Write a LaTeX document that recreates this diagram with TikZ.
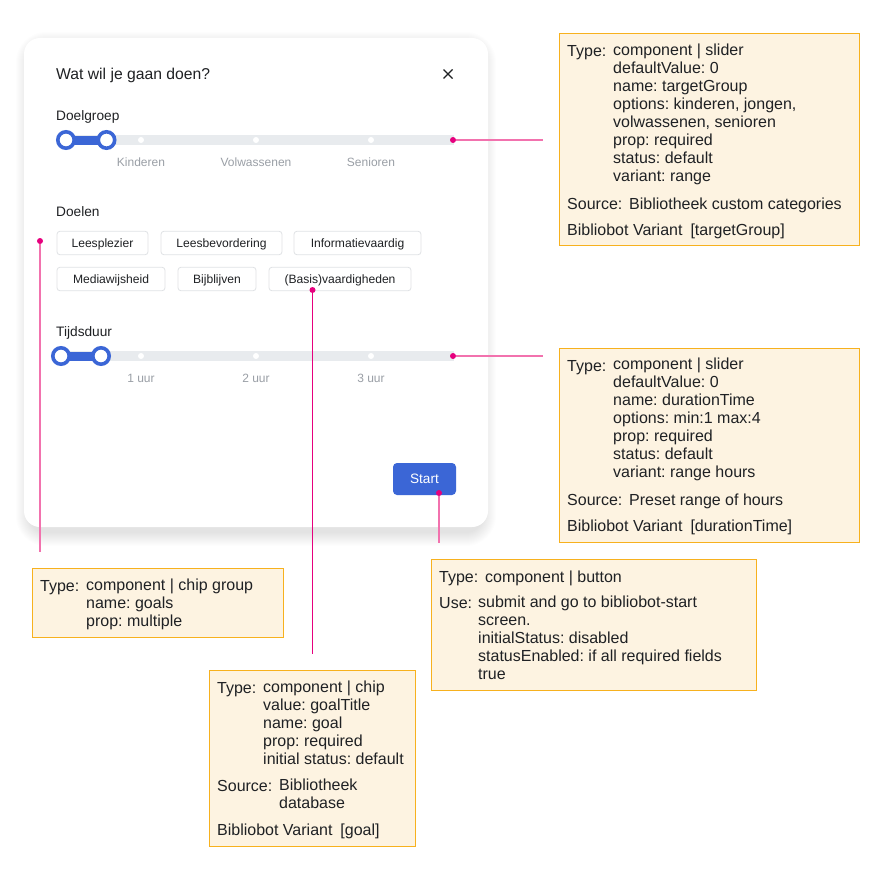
\documentclass[tikz,border=0pt]{standalone}
\usepackage{fontspec}
\setmainfont{Liberation Sans}
\frenchspacing
\usepackage{tikz}
\usetikzlibrary{positioning,calc}

\definecolor{inkblack}{HTML}{1F2124}
\definecolor{inkgrey}{HTML}{9A9FA6}
\definecolor{trackgrey}{HTML}{E8EBEE}
\definecolor{chipline}{HTML}{E0E2E5}
\definecolor{sliderblue}{HTML}{3B66D6}
\definecolor{pinkdot}{HTML}{E6007E}
\definecolor{pinkline}{HTML}{F272AE}
\definecolor{notefill}{HTML}{FDF3E1}
\definecolor{noteline}{HTML}{F7B11E}

\tikzset{
  note/.style={draw=noteline, fill=notefill, line width=1pt, rectangle, inner sep=0pt},
  notetext/.style={anchor=north west, align=left, inner sep=0pt, text=inkblack, yshift=-0.8pt,
    font=\fontsize{16}{18}\selectfont, execute at begin node=\strut},
  heading/.style={anchor=base west, inner sep=0pt, text=inkblack, font=\fontsize{13.7}{16}\selectfont},
  ticklabel/.style={anchor=base, inner sep=0pt, text=inkgrey, font=\fontsize{12}{14}\selectfont},
  chip/.style={draw=chipline, fill=white, line width=0.8pt, rounded corners=3pt, rectangle, inner sep=0pt,
    minimum height=23.5pt, text height=9.4pt, text depth=0.7pt, text=inkblack, font=\fontsize{12.1}{14}\selectfont},
  track/.style={fill=trackgrey, rectangle, inner sep=0pt, minimum height=10pt},
  thumb/.style={draw=sliderblue, fill=white, line width=3.6pt, circle, inner sep=0pt, minimum size=16.4pt},
  bar/.style={sliderblue, line width=9pt, shorten <=-2pt, shorten >=-2pt},
  tick/.style={fill=white, circle, inner sep=0pt, minimum size=6pt},
  pin/.style={fill=pinkdot, circle, inner sep=0pt, minimum size=6pt},
  leader/.style={pinkline, line width=2pt},
  leaderdark/.style={pinkdot, line width=1.2pt},
}

\begin{document}
\begin{tikzpicture}[x=1pt, y=-1pt]
  \useasboundingbox (0,0) rectangle (880,880);
  \fill[white] (0,0) rectangle (880,880);

  % card with soft shadow
  \foreach \g in {1,...,14} {
    \fill[black, opacity=0.008, rounded corners={16pt+\g pt}]
      ({30-\g},{46-\g}) rectangle ({482+\g},{532+\g});
  }
  \node[fill=white, rectangle, rounded corners=16pt, inner sep=0pt, minimum width=464pt, minimum height=489pt] at (256, 282.5) (card) {};

  \node[anchor=base west, inner sep=0pt, text=inkblack, font=\fontsize{15.7}{18}\selectfont] at (56, 79.5) (title) {Wat wil je gaan doen?};
  \coordinate (closea) at (443.5, 69.5);
  \coordinate (closeb) at (452.5, 78.5);
  \coordinate (closec) at (452.5, 69.5);
  \coordinate (closed) at (443.5, 78.5);
  \draw[inkblack, line width=1.4pt] (closea) -- (closeb);
  \draw[inkblack, line width=1.4pt] (closec) -- (closed);

  % doelgroep slider
  \node[heading] at (56, 120.5) (doelgroep) {Doelgroep};
  \node[track, minimum width=388pt] at (260, 140) (track1) {};
  \node[tick] at (141, 140) (tick1a) {};
  \node[tick] at (256, 140) (tick1b) {};
  \node[tick] at (371, 140) (tick1c) {};
  \node[ticklabel] at (141, 166) (kinderen) {Kinderen};
  \node[ticklabel] at (256, 166) (volwassenen) {Volwassenen};
  \node[ticklabel] at (371, 166) (senioren) {Senioren};
  \node[thumb] at (66, 140) (thumb1a) {};
  \node[thumb] at (106.5, 140) (thumb1b) {};
  \draw[bar] (thumb1a.east) -- (thumb1b.west);

  % doelen chips
  \node[heading] at (56, 216) (doelen) {Doelen};
  \node[chip, minimum width=91pt] at (102.5, 243) (chip1) {Leesplezier};
  \node[chip, minimum width=121pt] at (221.5, 243) (chip2) {Leesbevordering};
  \node[chip, minimum width=127pt] at (357.5, 243) (chip3) {Informatievaardig};
  \node[chip, minimum width=108pt] at (111, 279) (chip4) {Mediawijsheid};
  \node[chip, minimum width=78pt] at (217, 279) (chip5) {Bijblijven};
  \node[chip, minimum width=142pt] at (340, 279) (chip6) {(Basis)vaardigheden};

  % tijdsduur slider
  \node[heading] at (56, 336) (tijdsduur) {Tijdsduur};
  \node[track, minimum width=392pt] at (258, 356) (track2) {};
  \node[tick] at (141, 356) (tick2a) {};
  \node[tick] at (256, 356) (tick2b) {};
  \node[tick] at (371, 356) (tick2c) {};
  \node[ticklabel] at (141, 382) (uur1) {1 uur};
  \node[ticklabel] at (256, 382) (uur2) {2 uur};
  \node[ticklabel] at (371, 382) (uur3) {3 uur};
  \node[thumb] at (61, 356) (thumb2a) {};
  \node[thumb] at (101, 356) (thumb2b) {};
  \draw[bar] (thumb2a.east) -- (thumb2b.west);

  \node[fill=sliderblue, rectangle, rounded corners=4pt, inner sep=0pt, minimum width=63pt, minimum height=32pt,
    text height=10pt, text depth=0.5pt, text=white, font=\fontsize{13.6}{16}\selectfont] at (424.5, 479) (start) {Start};

  % notes
  \node[note, minimum width=300pt, minimum height=211pt] at (709, 139.5) (note1) {};
  \node[notetext] at (567, 43.4) (type1) {Type:};
  \node[notetext] at (613, 43.4) (vals1) {component | slider\\defaultValue: 0\\name: targetGroup\\options: kinderen, jongen,\\volwassenen, senioren\\prop: required\\status: default\\variant: range};
  \node[notetext] at (567, 195.4) (source1) {Source:};
  \node[notetext] at (629, 195.4) (from1) {Bibliotheek custom categories};
  \node[notetext] at (567, 221.4) (variant1) {Bibliobot Variant\hspace{8pt}[targetGroup]};

  \node[note, minimum width=300pt, minimum height=194pt] at (709, 445) (note2) {};
  \node[notetext] at (567, 357.4) (type2) {Type:};
  \node[notetext] at (613, 357.4) (vals2) {component | slider\\defaultValue: 0\\name: durationTime\\options: min:1 max:4\\prop: required\\status: default\\variant: range hours};
  \node[notetext] at (567, 491.4) (source2) {Source:};
  \node[notetext] at (629, 491.4) (from2) {Preset range of hours};
  \node[notetext] at (567, 517.4) (variant2) {Bibliobot Variant\hspace{8pt}[durationTime]};

  \node[note, minimum width=251pt, minimum height=69pt] at (157.5, 602.5) (note3) {};
  \node[notetext] at (40, 577.4) (type3) {Type:};
  \node[notetext] at (86, 577.4) (vals3) {component | chip group\\name: goals\\prop: multiple};

  \node[note, minimum width=325pt, minimum height=131pt] at (593.5, 624.5) (note4) {};
  \node[notetext] at (439, 568.4) (type4) {Type:};
  \node[notetext] at (485, 568.4) (vals4) {component | button};
  \node[notetext] at (439, 594.4) (use4) {Use:};
  \node[notetext] at (478, 594.4) (from4) {submit and go to bibliobot-start\\screen.\\initialStatus: disabled\\statusEnabled: if all required fields\\true};

  \node[note, minimum width=206pt, minimum height=176pt] at (312, 758) (note5) {};
  \node[notetext] at (217, 679.4) (type5) {Type:};
  \node[notetext] at (263, 679.4) (vals5) {component | chip\\value: goalTitle\\name: goal\\prop: required\\initial status: default};
  \node[notetext] at (217, 777.4) (source5) {Source:};
  \node[notetext] at (279, 777.4) (from5) {Bibliotheek\\database};
  \node[notetext] at (217, 821.4) (variant5) {Bibliobot Variant\hspace{8pt}[goal]};

  % leaders
  \node[pin] at (453, 140) (pin1) {};
  \node[pin] at (453, 356) (pin2) {};
  \node[pin] at (40, 241) (pin3) {};
  \node[pin] at (439, 493) (pin4) {};
  \node[pin] at (312.5, 290) (pin5) {};
  \coordinate (end1) at (543, 140);
  \coordinate (end2) at (543, 356);
  \coordinate (end3) at (40, 552);
  \coordinate (end4) at (439, 543);
  \coordinate (end5) at (312.5, 654);
  \draw[leader] (pin1) -- (end1);
  \draw[leader] (pin2) -- (end2);
  \draw[leader] (pin3) -- (end3);
  \draw[leader] (pin4) -- (end4);
  \draw[leaderdark] (pin5) -- (end5);
\end{tikzpicture}
\end{document}
